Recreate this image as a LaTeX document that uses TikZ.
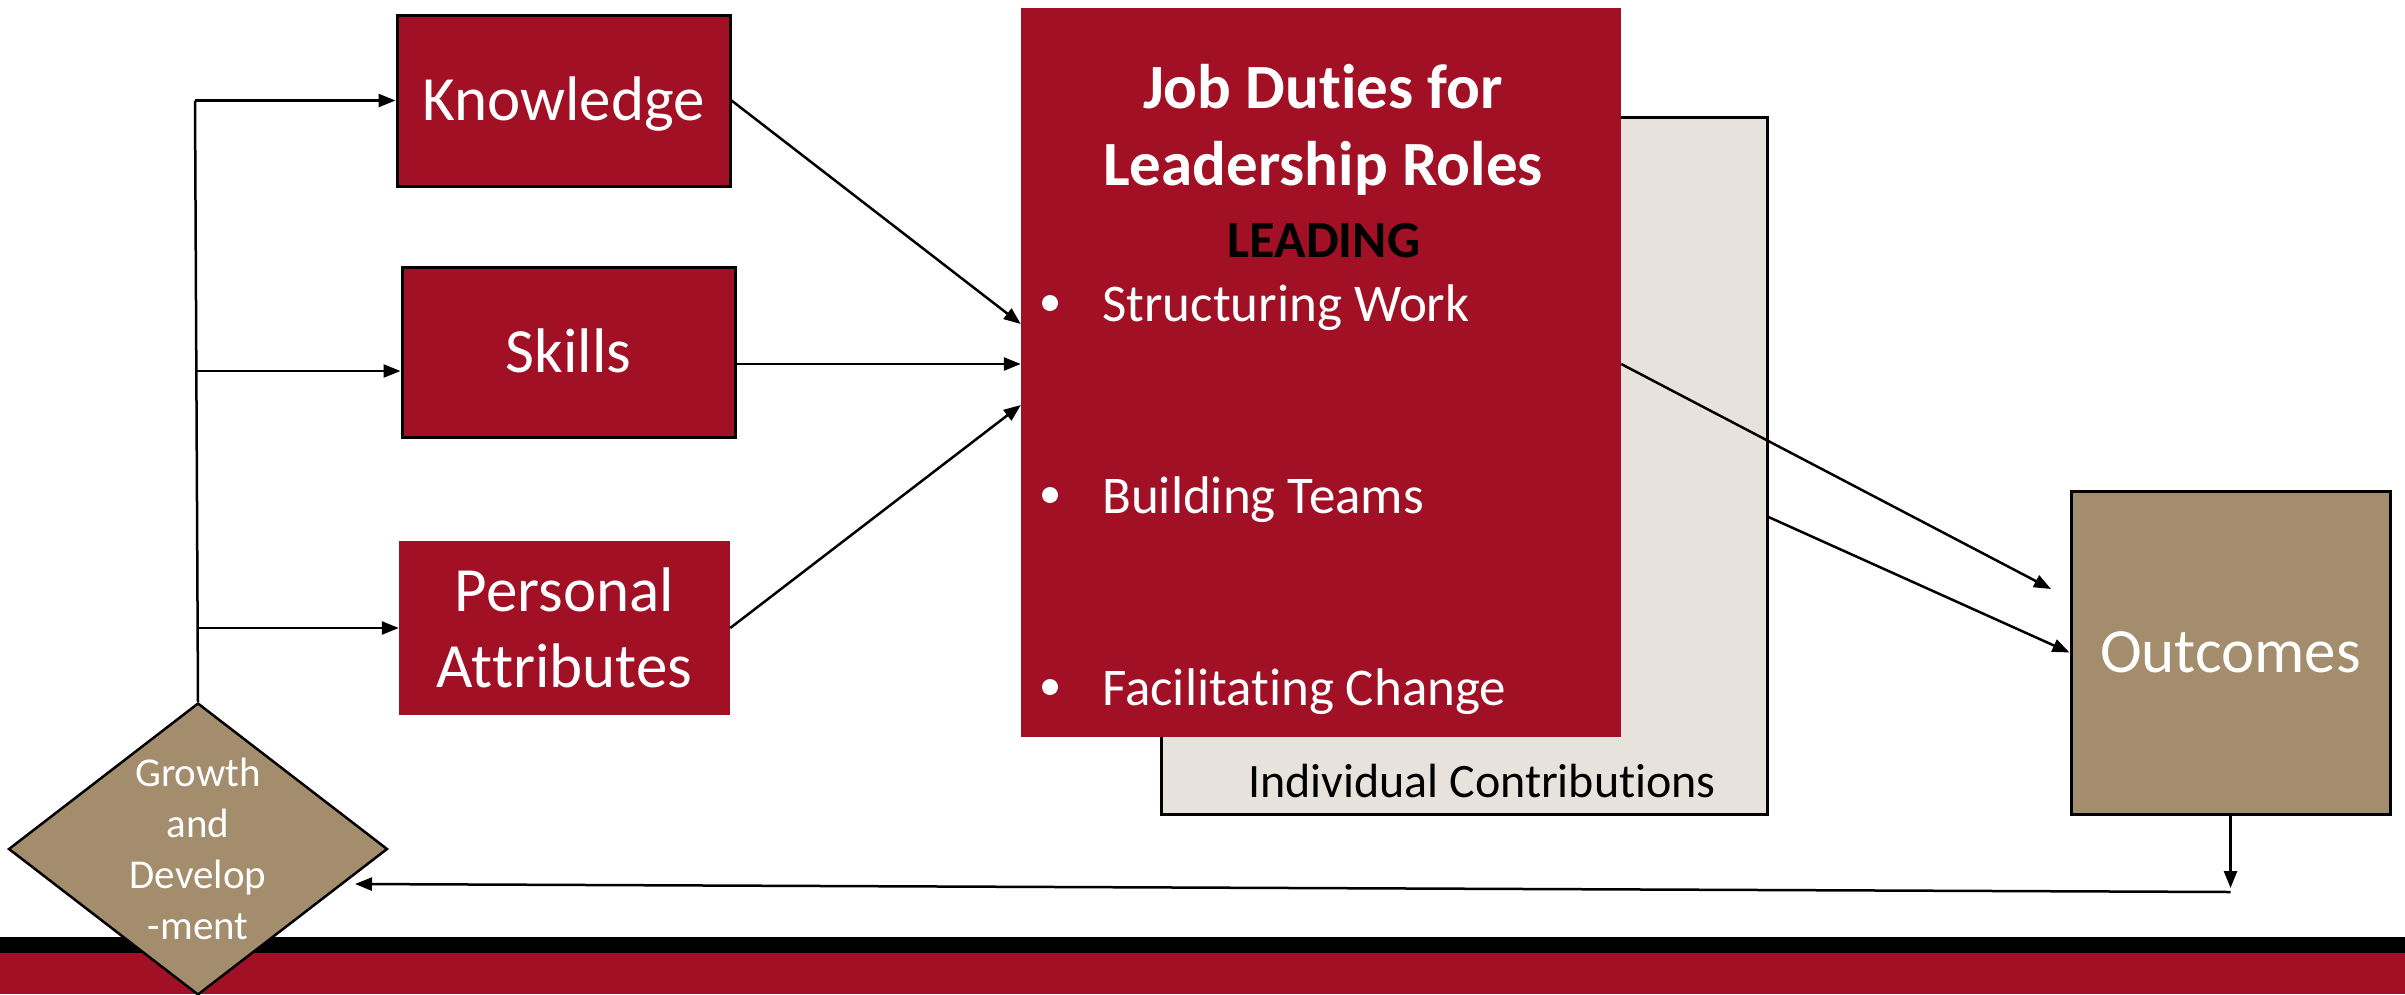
\documentclass[tikz,border=0pt]{standalone}
\usepackage{fontspec}
\setmainfont{Carlito}[RawFeature=-liga,RawFeature=-clig,RawFeature=-calt,RawFeature=-rlig]
\usetikzlibrary{arrows.meta,shapes.geometric}
\definecolor{crim}{RGB}{161,16,36}
\definecolor{tanc}{RGB}{163,141,108}
\definecolor{beigec}{RGB}{231,227,220}
\begin{document}
\begin{tikzpicture}[x=1pt,y=-1pt,
  box/.style={rectangle, inner sep=0pt, text=white, align=center},
  bord/.style={draw=black, line width=3pt},
  big/.style={font=\fontsize{63}{76}\selectfont},
  conn/.style={line width=2.5pt, -{Triangle[length=17pt,width=13pt]}},
  wire/.style={line width=2.5pt},
  lbl/.style={inner sep=0pt, anchor=base},
]
\useasboundingbox (0,0) rectangle (2405,994);
\clip (0,0) rectangle (2405,994);

% bottom band
\fill[black] (0,937) rectangle (2405,953);
\fill[crim] (0,953) rectangle (2405,994);

% individual contributions (back box)
\node[box, bord, fill=beigec, minimum width=606pt, minimum height=697pt] (indiv) at (1464,465.5) {};
\node[lbl, font=\fontsize{48}{58}\selectfont] (indivlbl) at (1482,797) {Individual Contributions};

% job duties box
\node[box, fill=crim, minimum width=600pt, minimum height=729pt] (duties) at (1321,372.5) {};
\node[lbl, text=white, font=\bfseries\fontsize{63}{76}\selectfont] (t1) at (1323,108) {Job Duties for};
\node[lbl, text=white, font=\bfseries\fontsize{63}{76}\selectfont] (t2) at (1323,185) {Leadership Roles};
\node[lbl, text=black, font=\bfseries\fontsize{52}{62}\selectfont] (t3) at (1324,257) {LEADING};
\foreach \y/\t/\n in {321/Structuring Work/1, 513/Building Teams/2, 705/Facilitating Change/3} {
  \node[circle, fill=white, minimum size=16pt, inner sep=0pt] (dot\n) at (1050,\y-18) {};
  \node[inner sep=0pt, anchor=base west, text=white, font=\fontsize{53}{64}\selectfont] (item\n) at (1102,\y) {\t};
}

% left boxes
\node[box, bord, fill=crim, big, minimum width=333pt, minimum height=171pt, text height=40pt, text depth=0pt] (know) at (563.5,100.5) {Knowledge};
\node[box, bord, fill=crim, big, minimum width=333pt, minimum height=170pt, text height=40pt, text depth=0pt] (skills) at (568.5,352) {Skills};
\node[box, fill=crim, big, minimum width=331pt, minimum height=174pt] (pa) at (564.5,628) {Personal\\Attributes};

% outcomes
\node[box, bord, fill=tanc, big, minimum width=319pt, minimum height=323pt, text height=40pt, text depth=0pt] (out) at (2230.5,652.5) {Outcomes};

% growth diamond
\node[diamond, draw=black, line width=2.5pt, fill=tanc, aspect=1.3, minimum width=379pt, minimum height=292pt, inner sep=0pt, text=white, align=center, font=\fontsize{41}{51}\selectfont] (grow) at (198,849) {Growth\\and\\Develop\\-ment};

% coordinates
\coordinate (tk) at (195,100.5);
\coordinate (ts) at (196,371);
\coordinate (tp) at (197,628);
\coordinate (r1) at (0,324);
\coordinate (r2) at (0,364);
\coordinate (r3) at (0,405);
\coordinate (r4) at (0,517);
\coordinate (o1) at (2051,589);
\coordinate (fb1) at (2230.5,888);
\coordinate (fb2) at (2230.5,892);
\coordinate (fb3) at (355,884);

% connectors
\draw[wire] (grow.north) -- (tk);
\draw[conn] (tk) -- (know.west);
\draw[conn] (ts) -- (ts -| skills.west);
\draw[conn] (tp) -- (pa.west);
\draw[conn] (know.east) -- (r1 -| duties.west);
\draw[conn] (r2 -| skills.east) -- (r2 -| duties.west);
\draw[conn] (pa.east) -- (r3 -| duties.west);
\draw[conn] (r2 -| duties.east) -- (o1);
\draw[conn] (r4 -| indiv.east) -- (out.west);
\draw[conn] (out.south) -- (fb1);
\draw[conn] (fb2) -- (fb3);
\end{tikzpicture}
\end{document}
